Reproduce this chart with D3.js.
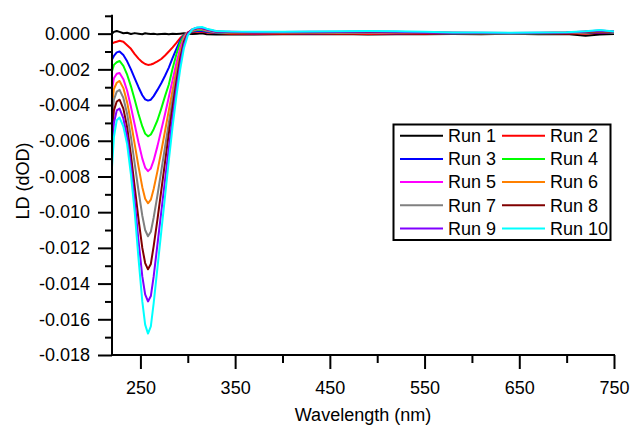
<!DOCTYPE html>
<html>
<head>
<meta charset="utf-8">
<script src="https://cdn.jsdelivr.net/npm/d3@7/dist/d3.min.js"></script>
<style>
  html, body { margin: 0; padding: 0; background: #fff; }
  svg text { font-family: "Liberation Sans", Arial, sans-serif; fill: #000; }
</style>
</head>
<body>
<svg id="chart" width="631" height="427"></svg>
<script>
// ---- data (LD values in units of 0.001 dOD) ----
const wavelengthsPeak = [220, 222, 225, 228, 232, 236, 240, 244, 248, 252, 255, 258, 261, 264, 268, 272, 276, 280, 284, 288, 292, 296, 300, 305, 310, 315, 320, 330];
const wavelengthsTail = [345, 370, 400, 430, 460, 490, 520, 550, 580, 610, 640, 670, 700, 720, 735, 750];

const runNames = ["Run 1", "Run 2", "Run 3", "Run 4", "Run 5", "Run 6", "Run 7", "Run 8", "Run 9", "Run 10"];
const runColors = ["#000000", "#ff0000", "#0000ff", "#00ff00", "#ff00ff", "#ff8000", "#808080", "#800000", "#8000ff", "#00ffff"];

const run1Peak = [0.0, 0.1, 0.15, 0.1, 0.02, 0.05, -0.02, 0.03, 0.0, -0.03, 0.02, 0.0, -0.02, 0.0, -0.04, -0.02, 0.0, -0.03, 0.0, -0.02, 0.0, 0.02, 0.0, -0.02, 0.0, 0.02, -0.03, -0.05];
const run2Peak = [-0.55, -0.5, -0.45, -0.4, -0.45, -0.65, -0.85, -1.15, -1.4, -1.6, -1.7, -1.75, -1.73, -1.67, -1.55, -1.42, -1.22, -1.0, -0.77, -0.52, -0.25, -0.06, 0.03, 0.08, 0.1, 0.1, 0.07, 0.03];
const run3Peak = [-1.45, -1.25, -1.05, -1.0, -1.2, -1.55, -2.0, -2.5, -3.0, -3.45, -3.68, -3.75, -3.7, -3.5, -3.15, -2.78, -2.36, -1.9, -1.36, -0.85, -0.38, -0.08, 0.05, 0.12, 0.15, 0.15, 0.1, 0.05];
const run4Peak = [-2.1, -1.75, -1.6, -1.53, -1.8, -2.3, -2.95, -3.7, -4.5, -5.2, -5.6, -5.75, -5.65, -5.35, -4.85, -4.2, -3.5, -2.85, -1.95, -1.15, -0.5, -0.12, 0.06, 0.15, 0.2, 0.2, 0.15, 0.07];
const run5Peak = [-3.1, -2.5, -2.25, -2.2, -2.55, -3.2, -4.1, -5.1, -6.1, -7.0, -7.5, -7.7, -7.55, -7.1, -6.3, -5.4, -4.5, -3.55, -2.6, -1.65, -0.8, -0.2, 0.08, 0.18, 0.24, 0.24, 0.18, 0.08];
const run6Peak = [-4.0, -3.1, -2.75, -2.65, -3.05, -3.85, -4.95, -6.2, -7.45, -8.6, -9.25, -9.5, -9.3, -8.7, -7.7, -6.6, -5.45, -4.3, -3.15, -2.05, -1.05, -0.3, 0.06, 0.2, 0.27, 0.27, 0.2, 0.1];
const run7Peak = [-4.8, -3.7, -3.25, -3.15, -3.6, -4.5, -5.8, -7.3, -8.8, -10.2, -11.0, -11.35, -11.1, -10.3, -9.05, -7.7, -6.35, -5.0, -3.65, -2.4, -1.25, -0.4, 0.03, 0.22, 0.3, 0.3, 0.22, 0.1];
const run8Peak = [-5.6, -4.3, -3.8, -3.7, -4.2, -5.25, -6.8, -8.6, -10.4, -12.0, -12.85, -13.2, -12.9, -11.9, -10.4, -8.8, -7.2, -5.6, -4.1, -2.7, -1.4, -0.45, 0.02, 0.24, 0.32, 0.32, 0.24, 0.12];
const run9Peak = [-6.5, -5.0, -4.3, -4.2, -4.75, -5.8, -7.4, -9.4, -11.6, -13.6, -14.6, -15.0, -14.7, -13.6, -11.8, -10.0, -8.2, -6.4, -4.7, -3.1, -1.7, -0.6, -0.02, 0.25, 0.33, 0.33, 0.25, 0.12];
const run10Peak = [-7.5, -5.8, -4.85, -4.7, -5.2, -6.2, -7.9, -10.0, -12.6, -15.0, -16.3, -16.8, -16.4, -15.1, -13.1, -11.1, -9.1, -7.1, -5.2, -3.5, -2.0, -0.8, -0.1, 0.25, 0.35, 0.37, 0.28, 0.15];

const run1Tail = [-0.03, -0.05, -0.03, -0.04, -0.02, -0.05, -0.03, -0.04, -0.02, -0.03, -0.01, -0.03, -0.02, -0.12, -0.05, -0.02];
const run2Tail = [0.0, -0.02, 0.0, -0.01, 0.01, -0.02, 0.0, -0.01, 0.0, -0.01, 0.0, 0.01, 0.02, 0.0, 0.05, 0.03];
const run3Tail = [0.03, 0.02, 0.03, 0.02, 0.04, 0.03, 0.02, 0.03, 0.01, 0.02, 0.01, 0.02, 0.03, 0.05, 0.08, 0.05];
const run4Tail = [0.04, 0.03, 0.04, 0.05, 0.04, 0.05, 0.04, 0.03, 0.02, 0.02, 0.01, 0.02, 0.03, 0.06, 0.1, 0.06];
const run5Tail = [0.06, 0.05, 0.05, 0.06, 0.07, 0.06, 0.05, 0.04, 0.03, 0.03, 0.02, 0.03, 0.04, 0.08, 0.12, 0.08];
const run6Tail = [0.07, 0.06, 0.06, 0.07, 0.08, 0.08, 0.07, 0.05, 0.04, 0.03, 0.03, 0.04, 0.05, 0.08, 0.12, 0.08];
const run7Tail = [0.08, 0.07, 0.07, 0.08, 0.09, 0.09, 0.08, 0.06, 0.04, 0.04, 0.03, 0.04, 0.05, 0.1, 0.14, 0.1];
const run8Tail = [0.08, 0.07, 0.08, 0.08, 0.09, 0.1, 0.08, 0.06, 0.05, 0.04, 0.03, 0.04, 0.06, 0.1, 0.14, 0.1];
const run9Tail = [0.1, 0.08, 0.09, 0.1, 0.11, 0.12, 0.1, 0.07, 0.05, 0.05, 0.04, 0.05, 0.07, 0.12, 0.18, 0.12];
const run10Tail = [0.12, 0.1, 0.1, 0.12, 0.14, 0.15, 0.13, 0.1, 0.07, 0.06, 0.05, 0.06, 0.08, 0.13, 0.2, 0.12];

const xMajorTicks = [250, 350, 450, 550, 650, 750];
const xMinorTicks = [300, 400, 500, 600, 700];
const yMajorTicks = [0, -0.002, -0.004, -0.006, -0.008, -0.010, -0.012, -0.014, -0.016, -0.018];
const yMinorTicks = [0.001, -0.001, -0.003, -0.005, -0.007, -0.009, -0.011, -0.013, -0.015, -0.017];

// ---- build series ----
const peaks = [run1Peak, run2Peak, run3Peak, run4Peak, run5Peak, run6Peak, run7Peak, run8Peak, run9Peak, run10Peak];
const tails = [run1Tail, run2Tail, run3Tail, run4Tail, run5Tail, run6Tail, run7Tail, run8Tail, run9Tail, run10Tail];
const wl = wavelengthsPeak.concat(wavelengthsTail);
const series = runNames.map((name, i) => ({
  name, color: runColors[i],
  points: peaks[i].concat(tails[i]).map((v, j) => ({ x: wl[j], y: v * 0.001 }))
}));

// ---- layout ----
const svg = d3.select("#chart");
const pLeft = 112, pRight = 614, pTop = 15.8, pBottom = 355;
const x = d3.scaleLinear().domain([220, 750]).range([pLeft, pRight]);
const y = d3.scaleLinear().domain([-0.018, 0.001]).range([pBottom, pTop]);

// lines
const line = d3.line().x(d => x(d.x)).y(d => y(d.y));
svg.append("g").selectAll("path").data(series).join("path")
  .attr("d", d => line(d.points))
  .attr("fill", "none")
  .attr("stroke", d => d.color)
  .attr("stroke-width", 2)
  .attr("stroke-linejoin", "round");

// axes
const fmtY = v => v.toFixed(3).replace("-0.000", "0.000");
const xAxis = svg.append("g").attr("transform", `translate(0,${pBottom})`)
  .call(d3.axisBottom(x).tickValues(xMajorTicks).tickSize(14).tickPadding(12).tickFormat(d3.format("d")));
xAxis.append("g").call(d3.axisBottom(x).tickValues(xMinorTicks).tickSize(8).tickFormat(""))
  .select(".domain").remove();
const yAxis = svg.append("g").attr("transform", `translate(${pLeft},0)`)
  .call(d3.axisLeft(y).tickValues(yMajorTicks).tickSize(14).tickPadding(8).tickFormat(fmtY));
yAxis.append("g").call(d3.axisLeft(y).tickValues(yMinorTicks).tickSize(7).tickFormat(""))
  .select(".domain").remove();

[xAxis, yAxis].forEach(a => {
  a.selectAll(".domain").attr("stroke", "#000").attr("stroke-width", 2);
  a.selectAll(".tick line").attr("stroke", "#000").attr("stroke-width", 2);
  a.selectAll("text").attr("font-size", 18).attr("font-family", "Liberation Sans, Arial, sans-serif").attr("fill", "#000");
});
xAxis.select(".domain").attr("d", `M${pLeft - 1},0H${pRight + 1}`);
yAxis.select(".domain").attr("d", `M0,${pTop - 1}V${pBottom + 1}`);

// axis titles
svg.append("text").attr("x", 363).attr("y", 421).attr("text-anchor", "middle")
  .attr("font-size", 18).text("Wavelength (nm)");
svg.append("text").attr("transform", "translate(29,181) rotate(-90)").attr("text-anchor", "middle")
  .attr("font-size", 18).text("LD (dOD)");

// legend
const lg = svg.append("g");
lg.append("rect").attr("x", 393.5).attr("y", 124.5).attr("width", 217).attr("height", 115.5)
  .attr("fill", "#fff").attr("stroke", "#000").attr("stroke-width", 2);
series.forEach((s, i) => {
  const col = i % 2, row = Math.floor(i / 2);
  const x0 = col === 0 ? 400 : 502;
  const yy = 135.8 + row * 23.15;
  lg.append("line").attr("x1", x0).attr("x2", x0 + 43).attr("y1", yy).attr("y2", yy)
    .attr("stroke", s.color).attr("stroke-width", 2);
  lg.append("text").attr("x", x0 + 48).attr("y", yy).attr("dy", "0.35em")
    .attr("font-size", 18).text(s.name);
});
</script>
</body>
</html>
